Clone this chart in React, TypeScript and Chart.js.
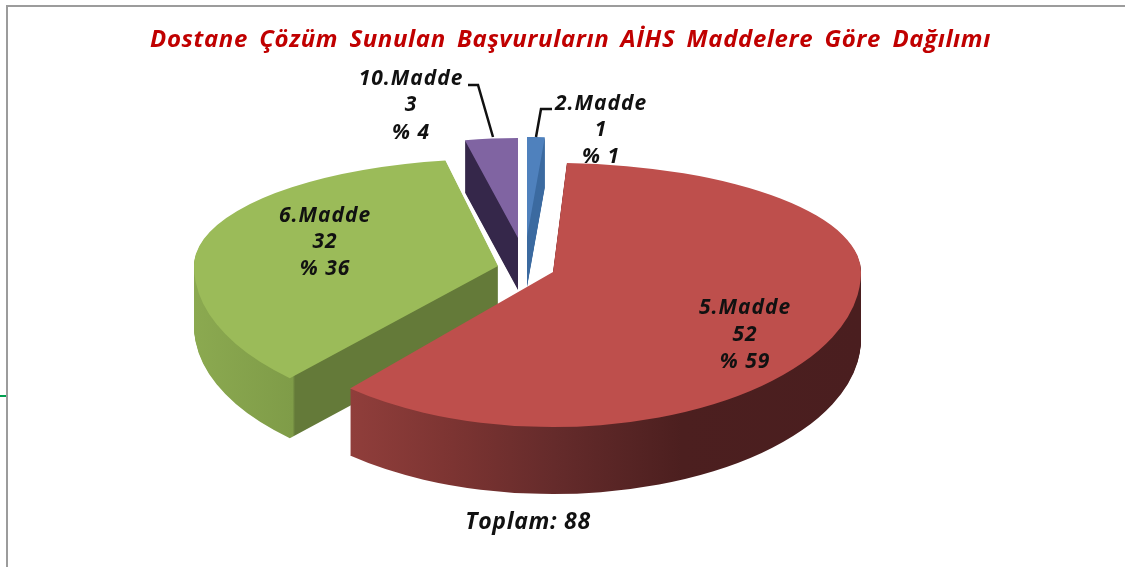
import React, { useEffect, useRef } from "react";
import { Chart, registerables } from "chart.js";

Chart.register(...registerables);

const TITLE = "Dostane Çözüm Sunulan Başvuruların AİHS Maddelere Göre Dağılımı";
const TOTAL_LABEL = "Toplam: 88";
const categories = ["2.Madde", "5.Madde", "6.Madde", "10.Madde"];
const counts = [1, 52, 32, 3];
const percents = [1, 59, 36, 4];
const faceColors = ["#4F81BD", "#BE4F4C", "#9BBB59", "#8064A2"];

const W = 1125;
const H = 567;
const FONT = '"Open Sans", sans-serif';

// Per-slice tilt: where the slice tip sits on screen, ellipse radii above and below it,
// a small rotation that mimics perspective, and the wall height.
const GEOMETRY = [
  { tx: 527, ty: 237, rx: 250, ryTop: 100, ryBottom: 100, rotTop: 0, rotBottom: 0, depth: 50 },
  { tx: 553, ty: 272, rx: 308, ryTop: 109, ryBottom: 155, rotTop: -1.5, rotBottom: 4.4, depth: 67 },
  { tx: 498, ty: 266, rx: 304, ryTop: 107, ryBottom: 154, rotTop: 2.3, rotBottom: 6.4, depth: 60 },
  { tx: 518, ty: 238, rx: 250, ryTop: 100, ryBottom: 100, rotTop: 0, rotBottom: 0, depth: 52 },
];
const DRAW_ORDER = [3, 0, 2, 1];

const WALLS: [number, number, [number, string][]][] = [
  [527, 545, [[0, "#3B6AA0"], [1, "#3B6AA0"]]],
  [351, 860, [[0, "#903E3B"], [0.2, "#7C3432"], [0.4, "#652B2B"], [0.65, "#4C1F1F"], [1, "#4A1E1F"]]],
  [195, 500, [[0, "#8BA950"], [0.32, "#7F9C48"], [0.328, "#647A39"], [1, "#647A39"]]],
  [465, 518, [[0, "#35274A"], [1, "#35274A"]]],
];

const LABELS = [
  { x: 601, y: [104, 130, 157] },
  { x: 745, y: [308, 335, 362] },
  { x: 325, y: [216, 242, 269] },
  { x: 411, y: [79, 105, 133] },
];

function placeArc(ctx: CanvasRenderingContext2D, arc: any, g: any, top: boolean, dy: number) {
  ctx.save();
  ctx.beginPath();
  if (top) ctx.rect(0, 0, W, g.ty + dy);
  else ctx.rect(0, g.ty + dy, W, H);
  ctx.clip();
  ctx.translate(g.tx, g.ty + dy);
  ctx.scale(g.rx / arc.outerRadius, (top ? g.ryTop : g.ryBottom) / arc.outerRadius);
  ctx.rotate(((top ? g.rotTop : g.rotBottom) * Math.PI) / 180);
  ctx.translate(-arc.x, -arc.y);
  arc.draw(ctx);
  ctx.restore();
}

const pie3d = {
  id: "pie3d",
  beforeDraw(chart: any) {
    const ctx = chart.ctx;
    ctx.save();
    ctx.fillStyle = "#ffffff";
    ctx.fillRect(0, 0, W, H);
    ctx.fillStyle = "#9C9C9C";
    ctx.fillRect(6, 5, W - 6, 2);
    ctx.fillRect(6, 5, 2, H - 5);
    ctx.fillStyle = "#00A050";
    ctx.fillRect(0, 395, 6, 2);
    ctx.restore();
    // spacing picked up by the title, which is drawn next
    ctx.letterSpacing = "0.6px";
    ctx.wordSpacing = "4.5px";
  },
  beforeDatasetDraw(chart: any) {
    const ctx = chart.ctx;
    const arcs = chart.getDatasetMeta(0).data;
    const off = document.createElement("canvas");
    off.width = W;
    off.height = H;
    const octx = off.getContext("2d") as CanvasRenderingContext2D;
    DRAW_ORDER.forEach((idx) => {
      const arc = arcs[idx];
      const g = GEOMETRY[idx];
      octx.globalCompositeOperation = "source-over";
      octx.clearRect(0, 0, W, H);
      for (let i = g.depth; i >= 1; i--) {
        placeArc(octx, arc, g, true, i);
        placeArc(octx, arc, g, false, i);
      }
      const [x0, x1, stops] = WALLS[idx];
      const grad = octx.createLinearGradient(x0, 0, x1, 0);
      stops.forEach(([s, c]) => grad.addColorStop(s, c));
      octx.globalCompositeOperation = "source-in";
      octx.fillStyle = grad;
      octx.fillRect(0, 0, W, H);
      ctx.drawImage(off, 0, 0);
      placeArc(ctx, arc, g, true, 0);
      placeArc(ctx, arc, g, false, 0);
    });
    return false;
  },
  afterDraw(chart: any) {
    const ctx = chart.ctx;
    ctx.save();
    ctx.strokeStyle = "#111111";
    ctx.lineWidth = 2.5;
    ctx.beginPath();
    ctx.moveTo(468, 85);
    ctx.lineTo(478, 85);
    ctx.lineTo(493, 137);
    ctx.moveTo(552, 109);
    ctx.lineTo(541, 109);
    ctx.lineTo(536, 137);
    ctx.stroke();
    ctx.fillStyle = "#111111";
    ctx.textAlign = "center";
    ctx.textBaseline = "middle";
    ctx.letterSpacing = "1px";
    ctx.wordSpacing = "0px";
    ctx.font = `italic 700 21px ${FONT}`;
    LABELS.forEach((l, i) => {
      ctx.fillText(categories[i], l.x, l.y[0]);
      ctx.fillText(String(counts[i]), l.x, l.y[1]);
      ctx.fillText(`% ${percents[i]}`, l.x, l.y[2]);
    });
    ctx.letterSpacing = "0.7px";
    ctx.font = `italic 700 23px ${FONT}`;
    ctx.fillText(TOTAL_LABEL, 528, 522);
    ctx.restore();
  },
};

export default function App() {
  const ref = useRef<HTMLCanvasElement>(null);
  useEffect(() => {
    const chart = new Chart(ref.current as HTMLCanvasElement, {
      type: "pie",
      data: {
        labels: categories,
        datasets: [{ data: counts, backgroundColor: faceColors, borderWidth: 0, hoverOffset: 0 }],
      },
      options: {
        responsive: false,
        animation: false,
        rotation: 0,
        layout: { padding: { left: 16 } },
        plugins: {
          legend: { display: false },
          tooltip: { enabled: false },
          title: {
            display: true,
            text: TITLE,
            color: "#C00000",
            padding: { top: 26, bottom: 10 },
            font: { family: FONT, size: 24, style: "italic", weight: "bold" },
          },
        },
      } as any,
      plugins: [pie3d],
    });
    return () => chart.destroy();
  }, []);
  return (
    <div style={{ position: "fixed", left: 0, top: 0, width: W, height: H, background: "#fff" }}>
      <canvas ref={ref} width={W} height={H} style={{ display: "block" }} />
    </div>
  );
}
